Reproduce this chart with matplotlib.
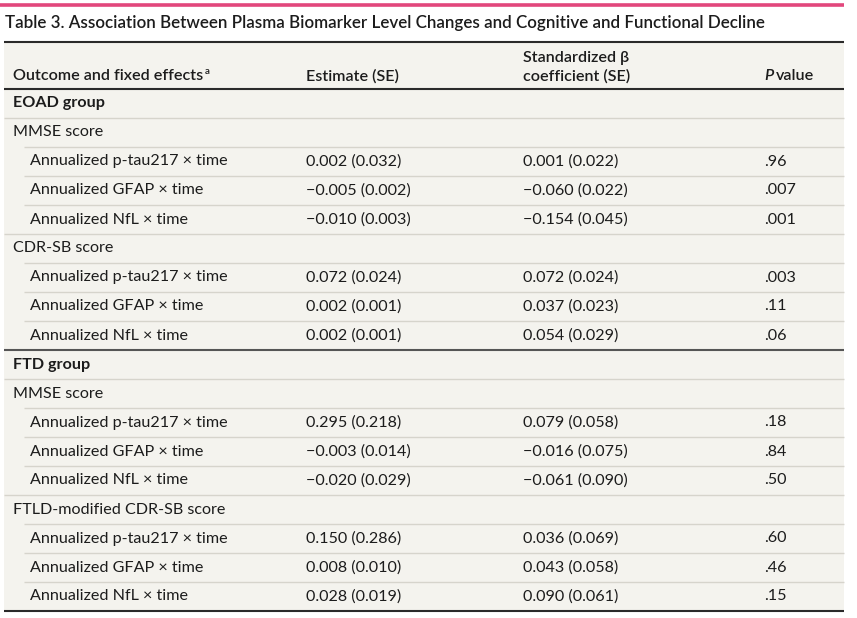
import matplotlib
matplotlib.use('Agg')
import matplotlib.pyplot as plt

plt.rcParams['font.family'] = ['Lato', 'DejaVu Sans']

# datos de la tabla
titulo = 'Table 3. Association Between Plasma Biomarker Level Changes and Cognitive and Functional Decline'
grupos = ['EOAD group', 'FTD group']
resultados = [['MMSE score', 'CDR-SB score'], ['MMSE score', 'FTLD-modified CDR-SB score']]
efectos = ['Annualized p-tau217 × time', 'Annualized GFAP × time', 'Annualized NfL × time']
estimacion = [
    ['0.002 (0.032)', '−0.005 (0.002)', '−0.010 (0.003)'],
    ['0.072 (0.024)', '0.002 (0.001)', '0.002 (0.001)'],
    ['0.295 (0.218)', '−0.003 (0.014)', '−0.020 (0.029)'],
    ['0.150 (0.286)', '0.008 (0.010)', '0.028 (0.019)'],
]
beta_std = [
    ['0.001 (0.022)', '−0.060 (0.022)', '−0.154 (0.045)'],
    ['0.072 (0.024)', '0.037 (0.023)', '0.054 (0.029)'],
    ['0.079 (0.058)', '−0.016 (0.075)', '−0.061 (0.090)'],
    ['0.036 (0.069)', '0.043 (0.058)', '0.090 (0.061)'],
]
p_valor = [
    ['.96', '.007', '.001'],
    ['.003', '.11', '.06'],
    ['.18', '.84', '.50'],
    ['.60', '.46', '.15'],
]

# posiciones (pixeles)
W, H = 857, 618
x0, x1 = 4, 844
col_x = [13, 306, 523, 764]
sangria = 30
y_head_top, y_head_bot = 42, 89
alto = 29
fs = 11.6
color_txt = '#1c1c1c'
fondo = '#f4f3ee'
linea_clara = '#d6d4cc'

fig = plt.figure(figsize=(W / 100, H / 100), dpi=100)
ax = fig.add_axes([0, 0, 1, 1])
ax.set_xlim(0, W)
ax.set_ylim(H, 0)
ax.axis('off')

# linea rosada y titulo
ax.plot([0, x1], [5, 5], color='#e2477c', lw=2.6, solid_capstyle='butt')
ax.text(5, 23, titulo, fontsize=12.25, fontweight='semibold', color=color_txt, va='center', ha='left')

# construimos la lista de filas
filas = []
k = 0
for g in range(2):
    filas.append(('grupo', grupos[g]))
    for r in range(2):
        filas.append(('resultado', resultados[g][r]))
        for e in range(3):
            filas.append(('efecto', efectos[e], estimacion[k][e], beta_std[k][e], p_valor[k][e]))
        k += 1

y_fin = y_head_bot + alto * len(filas)
ax.add_patch(plt.Rectangle((x0, y_head_top), x1 - x0, y_fin - y_head_top, color=fondo, lw=0, zorder=0))

# encabezado
ax.plot([x0, x1], [y_head_top, y_head_top], color='#2a2a2a', lw=1.5, solid_capstyle='butt')
t_out = ax.text(col_x[0], 76, 'Outcome and fixed effects', fontsize=fs, fontweight='semibold', color=color_txt, va='center')
# superindice pegado al final del texto
ax.annotate('a', xy=(1, 1), xycoords=t_out, xytext=(0.8, 1.5), textcoords='offset points',
            fontsize=7, fontweight='semibold', color=color_txt, ha='left', va='top')
ax.text(col_x[1], 76, 'Estimate (SE)', fontsize=fs, fontweight='semibold', color=color_txt, va='center')
ax.text(col_x[2], 58, 'Standardized β', fontsize=fs, fontweight='semibold', color=color_txt, va='center')
ax.text(col_x[2], 76, 'coefficient (SE)', fontsize=fs, fontweight='semibold', color=color_txt, va='center')
ax.text(col_x[3], 76, 'P', fontsize=fs, fontstyle='italic', fontweight='semibold', color=color_txt, va='center')
ax.text(col_x[3] + 12, 76, 'value', fontsize=fs, fontweight='semibold', color=color_txt, va='center')
ax.plot([x0, x1], [y_head_bot, y_head_bot], color='#2a2a2a', lw=1.5, solid_capstyle='butt')

for i, fila in enumerate(filas):
    yc = y_head_bot + alto * i + alto / 2
    tipo = fila[0]
    if tipo == 'grupo':
        ax.text(col_x[0], yc, fila[1], fontsize=fs, fontweight='bold', color=color_txt, va='center')
    elif tipo == 'resultado':
        ax.text(col_x[0], yc, fila[1], fontsize=fs, color=color_txt, va='center')
    else:
        ax.text(sangria, yc, fila[1], fontsize=fs, color=color_txt, va='center')
        for c, val in zip(col_x[1:], fila[2:]):
            ax.text(c, yc, val, fontsize=fs, color=color_txt, va='center')
    # linea inferior de cada fila
    yl = y_head_bot + alto * (i + 1)
    sig = filas[i + 1][0] if i + 1 < len(filas) else None
    if sig is None:
        ax.plot([x0, x1], [yl, yl], color='#2a2a2a', lw=1.5, solid_capstyle='butt')
    elif sig == 'grupo':
        ax.plot([x0, x1], [yl, yl], color='#555555', lw=1.5, solid_capstyle='butt')
    elif tipo == 'efecto' and sig == 'efecto':
        ax.plot([24, x1], [yl, yl], color=linea_clara, lw=1.0, solid_capstyle='butt')
    elif tipo == 'resultado':
        ax.plot([24, x1], [yl, yl], color=linea_clara, lw=1.0, solid_capstyle='butt')
    else:
        ax.plot([x0, x1], [yl, yl], color=linea_clara, lw=1.0, solid_capstyle='butt')

fig.savefig('out.png', dpi=100, facecolor='white')
